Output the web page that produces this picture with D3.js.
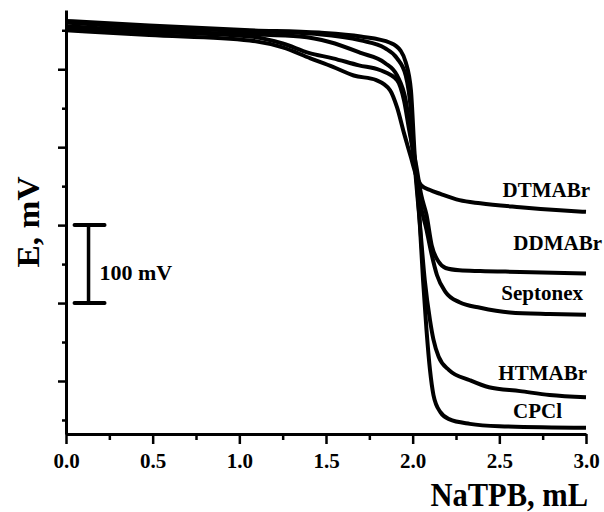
<!DOCTYPE html>
<html>
<head>
<meta charset="utf-8">
<script src="https://cdn.jsdelivr.net/npm/d3@7"></script>
<style>
    body { margin: 0; background: #fff; }
    text { font-family: "Liberation Serif", "Times New Roman", Times, serif; font-weight: bold; fill: #000; }
</style>
</head>
<body>
<svg id="chart" width="604" height="512"></svg>
<script>
// titrant volume (mL) and potential (mV)
const dtmabrV = [0, 0.48, 1.06, 1.25, 1.41, 1.54, 1.66, 1.79, 1.87, 1.91, 1.95, 1.99, 2.02, 2.05, 2.10, 2.16, 2.27, 2.39, 2.62, 2.85, 3.0];
const dtmabrE = [250, 244, 237, 228, 214, 203, 192, 186, 173, 151, 118, 87, 64, 51, 45, 40, 32, 28, 23, 19, 17];

const ddmabrV = [0, 0.48, 1.06, 1.25, 1.40, 1.54, 1.69, 1.81, 1.91, 1.95, 1.98, 2.02, 2.05, 2.08, 2.11, 2.15, 2.19, 2.27, 2.39, 2.62, 3.0];
const ddmabrE = [253, 248, 242, 233, 221, 214, 205, 199, 186, 160, 122, 77, 38, 13, -26, -47, -55, -58, -59, -60, -62];

const septonexV = [0, 0.48, 1.06, 1.35, 1.52, 1.70, 1.84, 1.91, 1.96, 2.00, 2.04, 2.08, 2.11, 2.14, 2.19, 2.27, 2.39, 2.56, 2.79, 3.0];
const septonexE = [255, 249, 245, 242, 235, 221, 208, 192, 160, 96, 32, -6, -38, -64, -86, -99, -106, -112, -114, -115];

const htmabrV = [0, 0.48, 1.06, 1.46, 1.70, 1.84, 1.91, 1.96, 1.99, 2.01, 2.04, 2.07, 2.10, 2.12, 2.15, 2.21, 2.33, 2.44, 2.62, 2.79, 3.0];
const htmabrE = [260, 253, 249, 245, 237, 227, 214, 192, 147, 83, 6, -71, -122, -147, -169, -186, -199, -208, -213, -218, -221];

const cpclV = [0, 0.48, 1.06, 1.46, 1.70, 1.87, 1.93, 1.96, 1.99, 2.01, 2.04, 2.06, 2.08, 2.10, 2.12, 2.16, 2.21, 2.33, 2.50, 3.0];
const cpclE = [262, 256, 250, 247, 242, 234, 224, 209, 173, 96, 6, -71, -135, -186, -218, -240, -249, -255, -258, -260];

const seriesNames = ["DTMABr", "DDMABr", "Septonex", "HTMABr", "CPCl"];
const seriesV = [dtmabrV, ddmabrV, septonexV, htmabrV, cpclV];
const seriesE = [dtmabrE, ddmabrE, septonexE, htmabrE, cpclE];

// axis ticks
const xMajor = [0, 0.5, 1.0, 1.5, 2.0, 2.5, 3.0];
const xMinor = [0.25, 0.75, 1.25, 1.75, 2.25, 2.75];
const yMajor = [-200, -100, 0, 100, 200];
const yMinor = [-250, -150, -50, 50, 150, 250];

// 100 mV scale bar (mL, mV)
const scaleBarV = [0.13];
const scaleBarE = [0, -100];

const margin = {left: 66, right: 18, top: 10, bottom: 78};
const width = 604 - margin.left - margin.right;
const height = 512 - margin.top - margin.bottom;

const x = d3.scaleLinear().domain([0, 3.0]).range([0, width]);
const y = d3.scaleLinear().domain([-268, 276]).range([height, 0]);

const svg = d3.select("#chart");
const g = svg.append("g").attr("transform", `translate(${margin.left},${margin.top})`);

// curves
const line = d3.line()
    .x(d => x(d[0]))
    .y(d => y(d[1]))
    .curve(d3.curveMonotoneX);

seriesNames.forEach(function (name, i) {
    let pts = seriesV[i].map((v, j) => [v, seriesE[i][j]]);
    g.append("path")
        .datum(pts)
        .attr("fill", "none")
        .attr("stroke", "#000")
        .attr("stroke-width", 4)
        .attr("stroke-linejoin", "round")
        .attr("d", line);
});

// series labels (right end of text, baseline)
const labelPos = [
    {x: 590, y: 197},
    {x: 602, y: 250},
    {x: 583, y: 300},
    {x: 587, y: 380},
    {x: 562, y: 418}
];
seriesNames.forEach(function (name, i) {
    svg.append("text")
        .attr("x", labelPos[i].x)
        .attr("y", labelPos[i].y)
        .attr("text-anchor", "end")
        .attr("font-size", 21)
        .text(name);
});

// x axis: major and minor ticks in their own groups
const xMajorG = g.append("g").attr("transform", `translate(0,${height})`)
    .call(d3.axisBottom(x).tickValues(xMajor).tickSize(10).tickSizeOuter(0).tickFormat(d3.format(".1f")));
const xMinorG = g.append("g").attr("transform", `translate(0,${height})`)
    .call(d3.axisBottom(x).tickValues(xMinor).tickSize(6).tickSizeOuter(0).tickFormat(""));
xMinorG.select(".domain").remove();
xMajorG.select(".domain").attr("stroke-width", 3);
xMajorG.selectAll(".tick text")
    .attr("font-size", 21)
    .attr("font-family", null)
    .attr("dy", null)
    .attr("y", 34);

// y axis, no labels
const yMajorG = g.append("g")
    .call(d3.axisLeft(y).tickValues(yMajor).tickSize(8).tickSizeOuter(0).tickFormat(""));
const yMinorG = g.append("g")
    .call(d3.axisLeft(y).tickValues(yMinor).tickSize(4).tickSizeOuter(0).tickFormat(""));
yMinorG.select(".domain").remove();
yMajorG.select(".domain").attr("stroke-width", 3);
g.selectAll(".tick line").attr("stroke-width", 2.5);

// scale bar
g.append("line")
    .attr("x1", x(scaleBarV[0])).attr("x2", x(scaleBarV[0]))
    .attr("y1", y(scaleBarE[0])).attr("y2", y(scaleBarE[1]))
    .attr("stroke", "#000").attr("stroke-width", 3.5);
scaleBarE.forEach(function (e) {
    g.append("line")
        .attr("x1", x(scaleBarV[0]) - 14).attr("x2", x(scaleBarV[0]) + 16)
        .attr("y1", y(e)).attr("y2", y(e))
        .attr("stroke", "#000").attr("stroke-width", 4)
        .attr("stroke-linecap", "round");
});
g.append("text")
    .attr("x", x(scaleBarV[0]) + 11)
    .attr("y", y(-50) + 16)
    .attr("font-size", 22)
    .text("100 mV");

// axis titles (slightly taller glyphs, as in the original)
svg.append("text")
    .attr("transform", "translate(588,506) scale(1,1.1)")
    .attr("text-anchor", "end")
    .attr("font-size", 30.5)
    .text("NaTPB, mL");

svg.append("text")
    .attr("transform", "translate(39,222) rotate(-90) scale(1.08,1)")
    .attr("text-anchor", "middle")
    .attr("font-size", 31)
    .text("E, mV");
</script>
</body>
</html>
